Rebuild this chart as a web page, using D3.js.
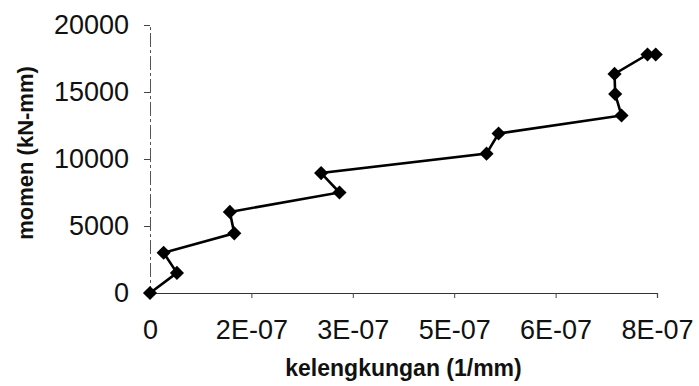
<!DOCTYPE html>
<html>
<head>
<meta charset="utf-8">
<script src="https://cdn.jsdelivr.net/npm/d3@7"></script>
<style>
  html, body { margin: 0; padding: 0; background: #fff; }
  svg { display: block; }
  .tick text { font-family: "Liberation Sans", Arial, sans-serif; fill: #111; }
</style>
</head>
<body>
<svg id="chart" width="699" height="386"></svg>
<script>
// Moment–curvature data (curvature in 1/mm, moment in kN-mm)
const curvature = [0, 4.25e-8, 2.15e-8, 1.33e-7, 1.26e-7, 2.99e-7, 2.70e-7,
                   5.31e-7, 5.50e-7, 7.44e-7, 7.34e-7, 7.33e-7, 7.85e-7, 7.98e-7];
const moment    = [0, 1500, 3000, 4450, 6050, 7500, 8950,
                   10400, 11900, 13250, 14850, 16350, 17800, 17800];

const xTickValues = [0, 1.6e-7, 3.2e-7, 4.8e-7, 6.4e-7, 8e-7];
const xTickLabels = ["0", "2E-07", "3E-07", "5E-07", "6E-07", "8E-07"];
const yTickValues = [0, 5000, 10000, 15000, 20000];

const xTitle = "kelengkungan (1/mm)";
const yTitle = "momen (kN-mm)";

const svg = d3.select("#chart");
const plot = { left: 150, right: 657, top: 25, bottom: 293 };

const x = d3.scaleLinear().domain([0, 8e-7]).range([plot.left, plot.right]);
const y = d3.scaleLinear().domain([0, 20000]).range([plot.bottom, plot.top]);

// Y axis
const yAxis = svg.append("g")
  .attr("transform", `translate(${plot.left},0)`)
  .call(d3.axisLeft(y).tickValues(yTickValues).tickFormat(d3.format("d"))
    .tickSize(6).tickPadding(15));
yAxis.select(".domain").attr("stroke", "#555").attr("stroke-width", 1)
  .attr("stroke-dasharray", "14,3,3,3");
yAxis.selectAll(".tick line").attr("stroke", "#444");
yAxis.selectAll(".tick text").style("font-size", "27px");

// X axis
const xAxis = svg.append("g")
  .attr("transform", `translate(0,${plot.bottom})`)
  .call(d3.axisBottom(x).tickValues(xTickValues)
    .tickFormat((d, i) => xTickLabels[i]).tickSize(5).tickPadding(22));
xAxis.select(".domain").attr("stroke", "#333").attr("stroke-width", 1.2);
xAxis.selectAll(".tick line").attr("stroke", "#444");
xAxis.selectAll(".tick text").style("font-size", "27px");

// Axis titles
svg.append("text")
  .attr("x", (plot.left + plot.right) / 2)
  .attr("y", 376)
  .attr("text-anchor", "middle")
  .style("font-family", "Liberation Sans, Arial, sans-serif")
  .style("font-weight", "bold")
  .style("font-size", "23px")
  .attr("fill", "#111")
  .text(xTitle);

svg.append("text")
  .attr("transform", `translate(33,${(plot.top + plot.bottom) / 2 - 6}) rotate(-90)`)
  .attr("text-anchor", "middle")
  .style("font-family", "Liberation Sans, Arial, sans-serif")
  .style("font-weight", "bold")
  .style("font-size", "22px")
  .attr("fill", "#111")
  .text(yTitle);

// Series line
const pts = curvature.map((c, i) => [c, moment[i]]);
svg.append("path")
  .datum(pts)
  .attr("fill", "none")
  .attr("stroke", "#000")
  .attr("stroke-width", 2.6)
  .attr("d", d3.line().x(d => x(d[0])).y(d => y(d[1])));

// Diamond markers
const diamond = d3.symbol().type(d3.symbolSquare).size(100);
svg.append("g").selectAll("path")
  .data(pts)
  .join("path")
  .attr("d", diamond)
  .attr("fill", "#000")
  .attr("transform", d => `translate(${x(d[0])},${y(d[1])}) rotate(45)`);
</script>
</body>
</html>
